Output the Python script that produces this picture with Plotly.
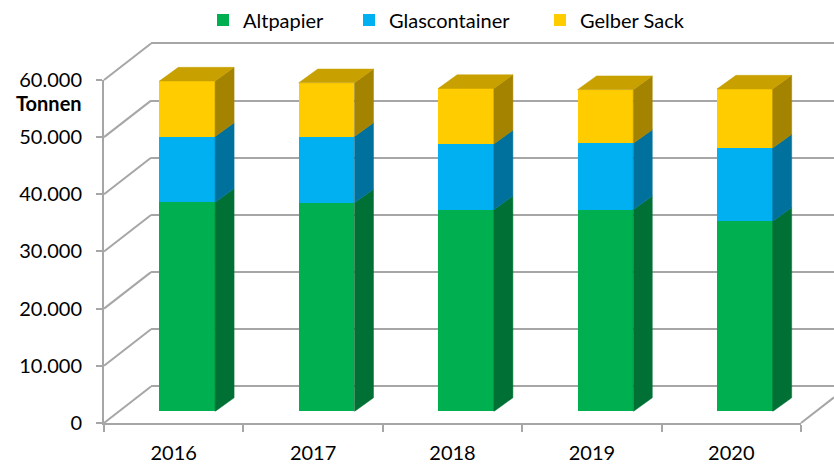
import plotly.graph_objects as go

# ---------------- data ----------------
years = ["2016", "2017", "2018", "2019", "2020"]
altpapier = [36600, 36500, 35300, 35300, 33300]
glascontainer = [11500, 11600, 11500, 11600, 12800]
gelber_sack = [9700, 9400, 9700, 9400, 10300]
y_ticks = [0, 10000, 20000, 30000, 40000, 50000, 60000]
series_names = ["Altpapier", "Glascontainer", "Gelber Sack"]

# ---------------- styling / geometry ----------------
PAGE_W, PAGE_H = 834, 464
OFF = 0                      # body margin removed via post_script
W, H = PAGE_W - OFF, PAGE_H - OFF
FONT = "Lato"
front_cols = ["#00B050", "#00B0F0", "#FFCC00"]
side_cols = ["#007034", "#00709C", "#A38300"]
top_col = "#C8A000"
grid_col = "#A6A6A6"

SX = 139.4          # px per category
SY = 0.005717       # px per tonne
BAR_W = 0.40        # bar width in category units
DEPTH_DX = 19 / SX  # bar depth in x units
DEPTH_DY = 13.7 / SY

# plane origins in page px (pixel of category 0 centre, pixel of value 0)
front_x0, front_y0 = 104 + 0.5 * SX, 423
bar_x0, bar_y0 = front_x0 + 13.5, 411.5
back_x0, back_y0 = front_x0 + 47, 386.5


def fx(px):
    return (px - OFF) / W


def fy(py):
    return 1 - (py - OFF) / H


def xdom(px0, r0, r1):
    return [fx(px0 + r0 * SX), fx(px0 + r1 * SX)]


def ydom(py0, r0, r1):
    return [fy(py0 - r0 * SY), fy(py0 - r1 * SY)]


xpos = list(range(len(years)))
series = [altpapier, glascontainer, gelber_sack]

fig = go.Figure()

# dummy traces so back / front subplots exist
fig.add_trace(go.Scatter(x=[None], y=[None], xaxis="x", yaxis="y",
                         showlegend=False, hoverinfo="skip"))
fig.add_trace(go.Scatter(x=[None], y=[None], xaxis="x2", yaxis="y2",
                         showlegend=False, hoverinfo="skip"))

legend_ids = ["legend", "legend2", "legend3"]
# front faces (stacked bars) on bar plane x3/y3
for name, vals, col, lg in zip(series_names, series, front_cols, legend_ids):
    fig.add_trace(go.Bar(x=xpos, y=vals, name=name, width=BAR_W,
                         marker=dict(color=col, line=dict(width=0)),
                         xaxis="x3", yaxis="y3", legend=lg))

# side faces and top face
bases = [0] * len(years)
for k, vals in enumerate(series):
    sx, sy = [], []
    tops = [b + v for b, v in zip(bases, vals)]
    for i in xpos:
        xr = i + BAR_W / 2
        b, t = bases[i], tops[i]
        sx += [xr, xr + DEPTH_DX, xr + DEPTH_DX, xr, xr, None]
        sy += [b, b + DEPTH_DY, t + DEPTH_DY, t, b, None]
    fig.add_trace(go.Scatter(x=sx, y=sy, mode="lines", fill="toself",
                             fillcolor=side_cols[k],
                             line=dict(color=side_cols[k], width=0.5),
                             xaxis="x3", yaxis="y3", showlegend=False,
                             hoverinfo="skip"))
    if k == len(series) - 1:
        tx, ty = [], []
        for i in xpos:
            xl, xr = i - BAR_W / 2, i + BAR_W / 2
            t = tops[i]
            tx += [xl, xl + DEPTH_DX, xr + DEPTH_DX, xr, xl, None]
            ty += [t, t + DEPTH_DY, t + DEPTH_DY, t, t, None]
        fig.add_trace(go.Scatter(x=tx, y=ty, mode="lines", fill="toself",
                                 fillcolor=top_col,
                                 line=dict(color=top_col, width=0.5),
                                 xaxis="x3", yaxis="y3", showlegend=False,
                                 hoverinfo="skip"))
    bases = tops

# wall diagonals (gridline decoration)
shapes = []
for v in y_ticks:
    shapes.append(dict(type="line", xref="paper", yref="paper",
                       x0=fx(front_x0 - 0.5 * SX), y0=fy(front_y0 - v * SY),
                       x1=fx(back_x0 - 0.5 * SX), y1=fy(back_y0 - v * SY),
                       layer="below", line=dict(color=grid_col, width=2)))
# floor diagonal at right
rx, ry = front_x0 + 4.5 * SX, front_y0
ratio = (PAGE_W - rx) / (back_x0 - front_x0)
shapes.append(dict(type="line", xref="paper", yref="paper",
                   x0=fx(rx), y0=fy(ry), x1=fx(PAGE_W),
                   y1=fy(ry - ratio * (front_y0 - back_y0)),
                   layer="below", line=dict(color=grid_col, width=2)))

back_xr = [-0.5, (PAGE_W - back_x0) / SX]
back_yr = [-2500, 62000]
bar_yr = [0, 66000]

# legend placement (page px of each legend square centre)
legend_sq_x = [223, 369, 560]
legend_cy = 20
legend_common = dict(orientation="h", xanchor="left", yanchor="middle",
                     font=dict(size=20, family=FONT, color="#000000"),
                     bgcolor="rgba(0,0,0,0)", borderwidth=0,
                     itemclick=False, itemdoubleclick=False)
legends = {}
for lg, sqx in zip(legend_ids, legend_sq_x):
    legends[lg] = dict(legend_common, x=fx(sqx - 20), y=fy(legend_cy))

fig.update_layout(
    template="none",
    width=W, height=H,
    autosize=False,
    margin=dict(l=0, r=0, t=0, b=0, pad=0, autoexpand=False),
    paper_bgcolor="white", plot_bgcolor="rgba(0,0,0,0)",
    separators=",.",
    barmode="stack",
    font=dict(family=FONT, size=20, color="#000000"),
    showlegend=True,
    shapes=shapes,
    annotations=[dict(text="<b>Tonnen</b>", xref="paper", yref="paper",
                      x=fx(49), y=fy(103), xanchor="center", yanchor="middle",
                      showarrow=False,
                      font=dict(size=20, family=FONT, color="#000000"))],
    # back plane: gridlines
    xaxis=dict(domain=xdom(back_x0, *back_xr), range=back_xr, visible=False,
               anchor="y", fixedrange=True, automargin=False),
    yaxis=dict(domain=ydom(back_y0, *back_yr), range=back_yr, anchor="x",
               showgrid=True, gridcolor=grid_col, gridwidth=2,
               tickvals=y_ticks, showticklabels=False, zeroline=False,
               showline=False, ticks="", fixedrange=True, automargin=False),
    # front plane: axes
    xaxis2=dict(domain=xdom(front_x0, -0.5, 4.5), range=[-0.5, 4.5],
                anchor="y2", tickvals=xpos, ticktext=years, ticks="",
                showgrid=False, zeroline=False, showline=True,
                linecolor=grid_col, linewidth=2, automargin=False,
                ticklabelstandoff=11, tickfont=dict(size=20),
                minor=dict(tickvals=[i - 0.5 for i in xpos] + [xpos[-1] + 0.5],
                           ticks="outside", ticklen=7, tickcolor=grid_col,
                           tickwidth=2, showgrid=False),
                fixedrange=True),
    yaxis2=dict(domain=ydom(front_y0, 0, 60000), range=[0, 60000],
                anchor="x2", tickvals=y_ticks, tickformat=",.0f",
                ticks="outside", ticklen=6, tickcolor=grid_col, tickwidth=2,
                showgrid=False, zeroline=False, showline=True,
                linecolor=grid_col, linewidth=2, ticklabelstandoff=10,
                tickfont=dict(size=20), fixedrange=True, automargin=False),
    # bar plane
    xaxis3=dict(domain=xdom(bar_x0, -0.5, 4.5), range=[-0.5, 4.5],
                anchor="y3", visible=False, fixedrange=True, automargin=False),
    yaxis3=dict(domain=ydom(bar_y0, *bar_yr), range=bar_yr, anchor="x3",
                visible=False, fixedrange=True, automargin=False),
    **legends,
)

fig.write_html(
    "out.html",
    config={"displayModeBar": False, "staticPlot": True},
    post_script="document.body.style.margin='0';"
                "document.body.style.overflow='hidden';",
)
